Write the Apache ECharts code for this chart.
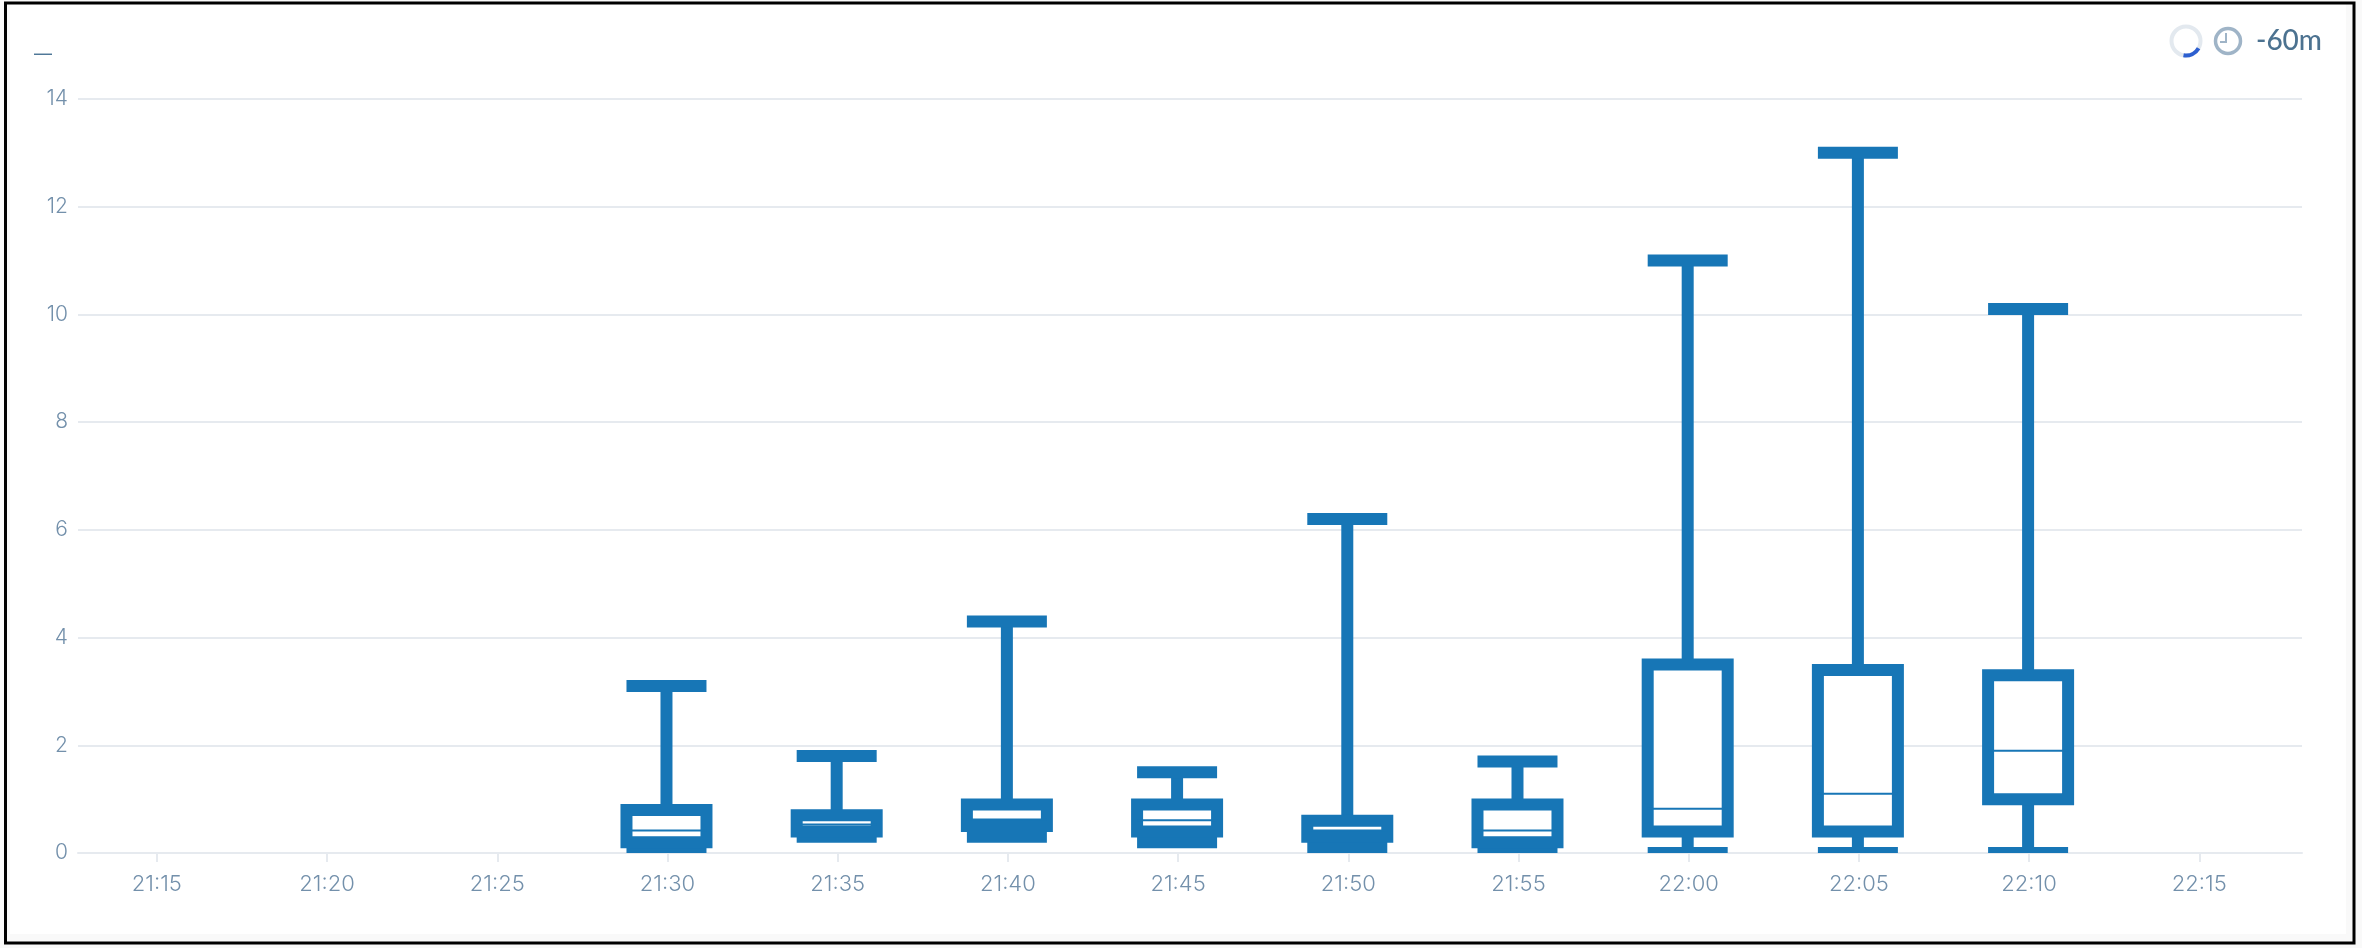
<!DOCTYPE html>
<html>
<head>
<meta charset="utf-8">
<style>
html,body{margin:0;padding:0;background:#f9f9f9;}
#chart{width:2362px;height:948px;}
</style>
<script src="https://cdn.jsdelivr.net/npm/echarts@6/dist/echarts.min.js"></script>
</head>
<body>
<div id="chart"></div>
<script>
const times   = ['21:30','21:35','21:40','21:45','21:50','21:55','22:00','22:05','22:10'];
const mins    = [0.05,0.3,0.3,0.2,0.1,0.05,0.0,0.0,0.0];
const q1s     = [0.2,0.4,0.5,0.4,0.3,0.2,0.4,0.4,1.0];
const medians = [0.42,0.53,0.62,0.61,0.42,0.42,0.82,1.1,1.9];
const q3s     = [0.8,0.7,0.9,0.9,0.6,0.9,3.5,3.4,3.3];
const maxes   = [3.1,1.8,4.3,1.5,6.2,1.7,11.0,13.0,10.1];
const tickLabels = ['21:15','21:20','21:25','21:30','21:35','21:40','21:45','21:50','21:55','22:00','22:05','22:10','22:15'];
const axisMinMinutes = 1272.683;
const axisMaxMinutes = 1338.017;
const seriesName = '—';
const timeRange = '-60m';

const blue = '#1776b6', grid = '#e6eaef', label = '#7390ab';
const labelFont = 'Inter';
const toMin = t => { const [h,m] = t.split(':').map(Number); return h*60+m; };
const tickValues = tickLabels.map(toMin);
const source = times.map((t,i)=>[toMin(t),mins[i],q1s[i],medians[i],q3s[i],maxes[i]]);

function renderBox(params, api){
  const xv = api.value(0);
  const p = v => { const c = api.coord([xv, v]); return [c[0]-1, c[1]]; };
  const lo = p(api.value(1)), a = p(api.value(2)), m = p(api.value(3)), b = p(api.value(4)), hi = p(api.value(5));
  const hw = 40, x = a[0];
  const thick = {stroke:blue, lineWidth:12, fill:null};
  const line = (x1,y1,x2,y2,style)=>({type:'line',shape:{x1,y1,x2,y2},style});
  return {type:'group',children:[
    line(x,hi[1],x,b[1],thick),
    line(x,a[1],x,lo[1],thick),
    line(x-hw,hi[1],x+hw,hi[1],thick),
    line(x-hw,lo[1],x+hw,lo[1],thick),
    {type:'rect',shape:{x:x-hw,y:b[1],width:hw*2,height:a[1]-b[1]},style:{stroke:blue,lineWidth:12,fill:'#fff'}},
    line(x-hw,m[1],x+hw,m[1],{stroke:blue,lineWidth:2})
  ]};
}

const chart = echarts.init(document.getElementById('chart'),null,{renderer:'canvas'});
chart.setOption({
  animation:false,
  backgroundColor:'#f9f9f9',
  title:{text:seriesName,left:29,top:41,textStyle:{fontFamily:labelFont,fontSize:18,fontWeight:400,color:'#4f7898'}},
  grid:{left:78,right:60,top:99,bottom:95},
  xAxis:{type:'value',min:axisMinMinutes,max:axisMaxMinutes,scale:true,
    axisLine:{lineStyle:{color:grid,width:2}},
    axisTick:{length:9,lineStyle:{color:grid,width:2},customValues:tickValues},
    splitLine:{show:false},
    axisLabel:{customValues:tickValues,formatter:v=>tickLabels[tickValues.indexOf(v)],color:label,fontFamily:labelFont,fontSize:22,fontWeight:300,margin:20,hideOverlap:false}},
  yAxis:{type:'value',min:0,max:14,interval:2,
    axisLine:{show:false},axisTick:{show:false},
    splitLine:{lineStyle:{color:grid,width:2}},
    axisLabel:{color:label,fontFamily:labelFont,fontSize:21,fontWeight:300,margin:10}},
  series:[{type:'custom',name:seriesName,clip:true,renderItem:renderBox,
    encode:{x:0,y:[1,5]},data:source}],
  graphic:[
    {type:'rect',silent:true,z:-1,shape:{x:10,y:4,width:2336,height:930},style:{fill:'#fff'}},
    {type:'rect',silent:true,z:100,shape:{x:5.5,y:3,width:2348.5,height:940},style:{fill:null,stroke:'#000',lineWidth:3}},
    {type:'circle',silent:true,shape:{cx:2186,cy:41,r:14.5},style:{fill:null,stroke:'#e3e9ef',lineWidth:4}},
    {type:'arc',silent:true,z:101,shape:{cx:2186,cy:41,r:14.5,startAngle:Math.PI*30/180,endAngle:Math.PI*100/180,clockwise:true},style:{fill:null,stroke:'#2d5fd0',lineWidth:4}},
    {type:'circle',silent:true,shape:{cx:2228,cy:41,r:12.5},style:{fill:null,stroke:'#9fb4c7',lineWidth:3.5}},
    {type:'polyline',silent:true,shape:{points:[[2226,33],[2226,42],[2220,42]]},style:{fill:null,stroke:'#9fb4c7',lineWidth:2}},
    {type:'text',silent:true,style:{x:2322,y:41,text:timeRange,textAlign:'right',textVerticalAlign:'middle',fontFamily:'Lato',fontSize:28,fontWeight:500,fill:'#4c7290'}}
  ]
});
</script>
</body>
</html>
